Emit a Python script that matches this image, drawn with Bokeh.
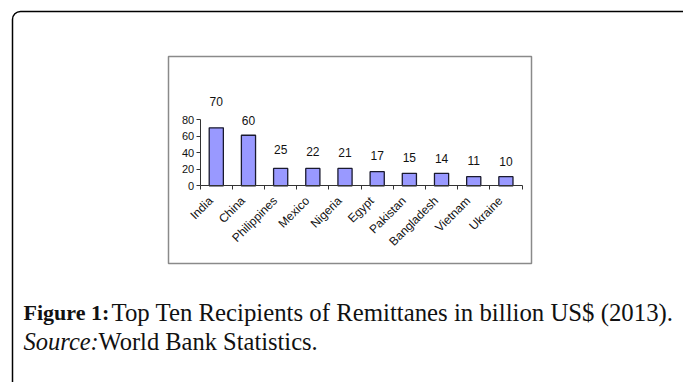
import math
from bokeh.plotting import figure
from bokeh.models import (ColumnDataSource, Range1d, FixedTicker, Label, BoxAnnotation)
from bokeh.core.properties import value
from bokeh.embed import file_html
from bokeh.resources import INLINE

# ---- data ----
countries = ["India", "China", "Philippines", "Mexico", "Nigeria",
             "Egypt", "Pakistan", "Bangladesh", "Vietnam", "Ukraine"]
bar_heights = [70, 61, 21, 21, 21, 17, 15, 15, 11, 11]
value_labels = [70, 60, 25, 22, 21, 17, 15, 14, 11, 10]
y_ticks = [0, 20, 40, 60, 80]

caption_bold = "Figure 1:"
caption_rest = "Top Ten Recipients of Remittanes in billion US$ (2013)."
source_italic = "Source:"
source_rest = "World Bank Statistics."

# ---- layout (canvas pixels, top-left origin) ----
W, H = 683, 382
AX_L, AX_R = 199.7, 521.5      # x-axis extent
Y0, Y80 = 185.3, 119.0         # pixel rows of value 0 and 80
n = len(countries)
xs = [i + 0.5 for i in range(n)]

ppx = (AX_R - AX_L) / n                # pixels per category
ppy = (Y0 - Y80) / y_ticks[-1]         # pixels per value unit
x_start = -AX_L / ppx
x_end = x_start + W / ppx
y_end = Y0 / ppy
y_start = -(H - Y0) / ppy

p = figure(width=W, height=H, output_backend="svg", toolbar_location=None,
           x_range=Range1d(x_start, x_end), y_range=Range1d(y_start, y_end),
           min_border=0, background_fill_color="white", border_fill_color="white")
p.outline_line_color = None
p.grid.visible = False

src = ColumnDataSource(dict(x=xs, top=bar_heights, lab=[str(v) for v in value_labels],
                            ly=value_labels,
                            yoff=[-26 if i == 0 else -16 for i in range(n)]))
p.vbar(x="x", top="top", width=0.44, bottom=0, source=src,
       fill_color="#9999ff", line_color="#1a1a2e", line_width=1.3)
p.text(x="x", y="ly", text="lab", source=src, y_offset="yoff",
       text_align="center", text_baseline="middle",
       text_font=value("Liberation Sans"), text_font_size="12px", text_color="#111111")

# y axis
ya = p.yaxis[0]
ya.fixed_location = 0
ya.ticker = FixedTicker(ticks=y_ticks)
ya.bounds = (0, y_ticks[-1])
ya.major_tick_in = 0
ya.major_tick_out = 4
ya.minor_tick_out = 0
ya.minor_tick_in = 0
ya.axis_line_color = "#333333"
ya.major_tick_line_color = "#333333"
ya.major_label_text_font = "Liberation Sans"
ya.major_label_text_font_size = "11px"
ya.major_label_text_color = "#111111"
ya.major_label_standoff = 2

# x axis: labels at category centres (nudged to sit like the original), tick marks between
label_pos = [x - 0.17 for x in xs]
xa = p.xaxis[0]
xa.fixed_location = 0
xa.ticker = FixedTicker(ticks=label_pos, minor_ticks=list(range(n + 1)))
xa.bounds = (0, n)
xa.major_label_overrides = {x: c for x, c in zip(label_pos, countries)}
xa.major_tick_in = 0
xa.major_tick_out = 0
xa.minor_tick_in = 0
xa.minor_tick_out = 4
xa.axis_line_color = "#333333"
xa.minor_tick_line_color = "#333333"
xa.major_label_orientation = math.pi / 4
xa.major_label_text_font = "Liberation Sans"
xa.major_label_text_font_size = "12px"
xa.major_label_text_color = "#111111"
xa.major_label_standoff = 9

# canvas px (top-left origin) -> screen units (bottom-left origin)
def sx(cx):
    return cx

def sy(cy):
    return H - cy

p.add_layout(BoxAnnotation(left=sx(168), right=sx(531), top=sy(56), bottom=sy(263),
                           left_units="screen", right_units="screen",
                           top_units="screen", bottom_units="screen",
                           fill_alpha=0, line_alpha=1.0,
                           line_color="#8a8a8a", line_width=1.5))
p.add_layout(BoxAnnotation(left=sx(12), right=sx(692), top=sy(11), bottom=sy(800),
                           left_units="screen", right_units="screen",
                           top_units="screen", bottom_units="screen",
                           fill_alpha=0, line_alpha=1.0,
                           line_color="#000000", line_width=1.5,
                           border_radius=8))

cap_font = "Liberation Serif"
l1 = Label(x=sx(23), y=sy(312), x_units="screen", y_units="screen",
           text=caption_bold, text_font=cap_font, text_font_style="bold",
           text_font_size="22px", text_baseline="alphabetic", text_color="#111111")
l2 = Label(x=sx(111), y=sy(312), x_units="screen", y_units="screen",
           text=caption_rest, text_font=cap_font,
           text_font_size="24.8px", text_baseline="alphabetic", text_color="#111111")
l3 = Label(x=sx(23), y=sy(340.5), x_units="screen", y_units="screen",
           text=source_italic, text_font=cap_font, text_font_style="italic",
           text_font_size="24.5px", text_baseline="alphabetic", text_color="#111111")
l4 = Label(x=sx(98), y=sy(340.5), x_units="screen", y_units="screen",
           text=source_rest, text_font=cap_font,
           text_font_size="24.5px", text_baseline="alphabetic", text_color="#111111")
for l in (l1, l2, l3, l4):
    p.add_layout(l)

open("out.html", "w").write(file_html(p, INLINE))
